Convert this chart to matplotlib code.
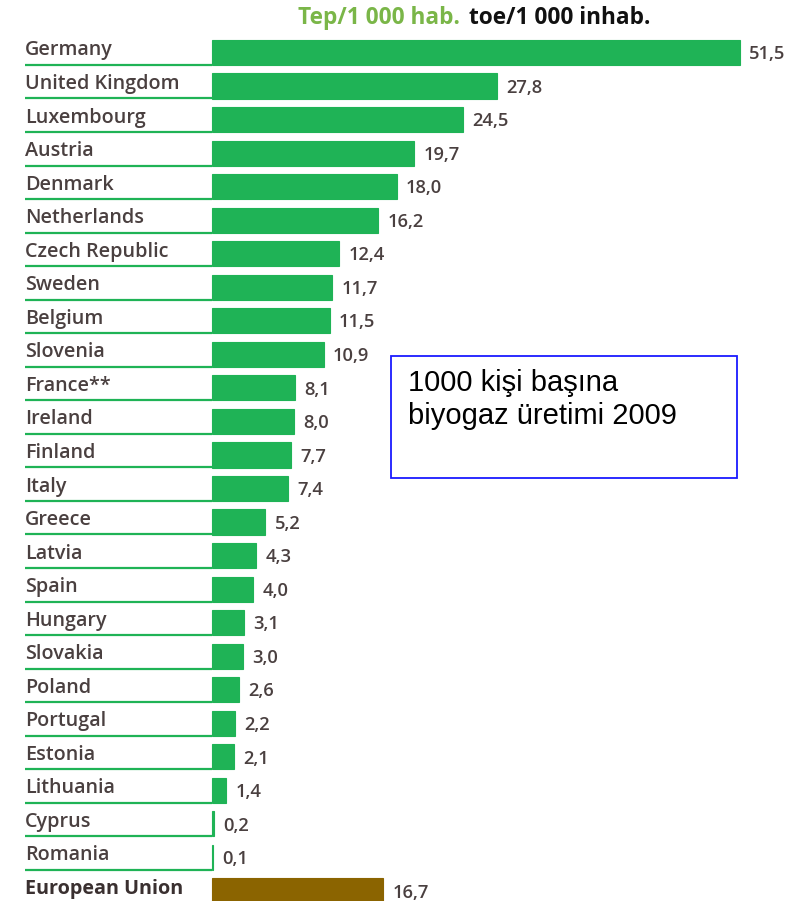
import matplotlib.pyplot as plt
import numpy as np

countries = ["Germany", "United Kingdom", "Luxembourg", "Austria", "Denmark",
             "Netherlands", "Czech Republic", "Sweden", "Belgium", "Slovenia",
             "France**", "Ireland", "Finland", "Italy", "Greece", "Latvia",
             "Spain", "Hungary", "Slovakia", "Poland", "Portugal", "Estonia",
             "Lithuania", "Cyprus", "Romania", "European Union"]
values = [51.5, 27.8, 24.5, 19.7, 18.0, 16.2, 12.4, 11.7, 11.5, 10.9,
          8.1, 8.0, 7.7, 7.4, 5.2, 4.3, 4.0, 3.1, 3.0, 2.6, 2.2, 2.1,
          1.4, 0.2, 0.1, 16.7]

green = "#1fb356"
brown = "#8b6400"
txt = "#4a4040"
font = "Open Sans"

fig = plt.figure(figsize=(7.87, 9.01), dpi=100)
ax = fig.add_axes([0, 0, 1, 1])
px = 10.25  # pixels per unit
ax.set_xlim(-212 / px, (787 - 212) / px)
ax.set_ylim((901 - 52.5) / 33.54, -52.5 / 33.54)
ax.axis("off")

y = np.arange(len(countries))
colors = [green] * (len(countries) - 1) + [brown]
ax.barh(y, values, height=0.75, color=colors, linewidth=0.8, edgecolor=colors)

x_left = -(212 - 25) / px
for i, (c, v) in enumerate(zip(countries, values)):
    last = i == len(countries) - 1
    ax.text(x_left, i - 0.06, c, ha="left", va="center", fontsize=14.2,
            color=txt if not last else "#3a3030", family=font,
            fontweight="bold" if last else "semibold")
    if not last:
        ax.plot([x_left, 0], [i + 0.37, i + 0.37], color=green, lw=1.6,
                solid_capstyle="butt")
    ax.text(v + 0.9, i + 0.05, f"{v:.1f}".replace(".", ","), ha="left",
            va="center", fontsize=13.2, color=txt, family=font,
            fontweight="semibold")

# header
fig.text(298 / 787, 1 - 18 / 901, "Tep/1 000 hab.", ha="left", va="center",
         fontsize=16.3, color="#7ab648", family=font, fontweight="bold")
fig.text(469 / 787, 1 - 18 / 901, "toe/1 000 inhab.", ha="left", va="center",
         fontsize=16.3, color="#111111", family=font, fontweight="bold")

# annotation box
box = plt.Rectangle((391 / 787, 1 - 478 / 901), 346 / 787, 122 / 901,
                    transform=fig.transFigure, fill=False, edgecolor="#1a1aff",
                    lw=1.3)
fig.add_artist(box)
fig.text(408 / 787, 1 - 369 / 901, "1000 kişi başına\nbiyogaz üretimi 2009",
         ha="left", va="top", fontsize=21, family="Liberation Sans",
         color="black", linespacing=1.22)

fig.savefig("out.png", dpi=100)
